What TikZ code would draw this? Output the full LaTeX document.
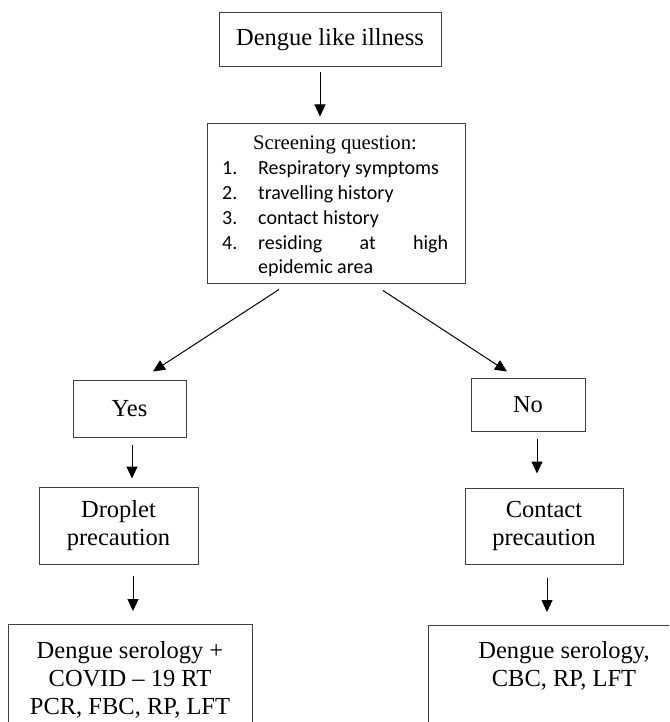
\documentclass[tikz,border=0pt]{standalone}
\usepackage{fontspec}
\setmainfont{Liberation Serif}
\newfontfamily\calfont{Carlito}
\usetikzlibrary{arrows.meta}
\begin{document}
\begin{tikzpicture}[x=1pt,y=-1pt,
  box/.style={draw=black!75, line width=1pt, rectangle, inner sep=0pt, align=center,
              font=\fontsize{24.5}{28}\selectfont},
  arr/.style={draw=black, line width=1pt, -{Triangle[length=12pt,width=11pt]}},
  lst/.style={font=\calfont\fontsize{20}{24}\selectfont, inner sep=0pt, anchor=base west},
  ttl/.style={font=\fontsize{20.7}{24}\selectfont, inner sep=0pt, anchor=base}
]
\useasboundingbox (0,0) rectangle (669,722);
\clip (0,0) rectangle (669,722);
\fill[white] (0,0) rectangle (669,722);

% boxes
\node[box, minimum width=222, minimum height=54] (ill) at (330,40) {Dengue like illness};
\node[box, minimum width=258, minimum height=159] (screen) at (336,203.5) {};
\node[ttl] (sq) at (335,150) {Screening question:};
\node[lst] (n1) at (222,175) {1.};
\node[lst] (i1) at (258,175) {Respiratory symptoms};
\node[lst] (n2) at (222,199) {2.};
\node[lst] (i2) at (258,199) {travelling history};
\node[lst] (n3) at (222,224) {3.};
\node[lst] (i3) at (258,224) {contact history};
\node[lst] (n4) at (222,249) {4.};
\node[lst] (i4) at (258,249) {\makebox[190pt][l]{residing\hfill at\hfill high}};
\node[lst] (i5) at (258,273) {epidemic area};

\node[box, minimum width=113, minimum height=57] (yes) at (129.5,408.5) {Yes};
\node[box, minimum width=114, minimum height=53] (no) at (528,404.5) {No};
\node[box, minimum width=159, minimum height=77] (drop) at (118.5,525.5) {Droplet\\precaution};
\node[box, minimum width=158, minimum height=76] (cont) at (544,526) {Contact\\precaution};

\node[box, anchor=north, minimum width=244] (finl) at (130,624)
  {\parbox[c][140pt][t]{240pt}{\centering\rule{0pt}{34pt}Dengue serology +\\COVID – 19 RT\\PCR, FBC, RP, LFT}};
\node[box, anchor=north, minimum width=272] (finr) at (564,625)
  {\parbox[c][140pt][t]{268pt}{\centering\rule{0pt}{33pt}Dengue serology,\\CBC, RP, LFT}};

% connectors
\draw[arr] ([xshift=-10pt,yshift=-5pt]ill.south) -- ([xshift=-16pt,yshift=7pt]screen.north);
\draw[arr] ([xshift=-57pt,yshift=-6pt]screen.south) -- ([xshift=23.5pt,yshift=8pt]yes.north);
\draw[arr] ([xshift=47pt,yshift=-7pt]screen.south) -- ([xshift=-21pt,yshift=6pt]no.north);
\draw[arr] ([xshift=2.5pt,yshift=-7pt]yes.south) -- ([xshift=13.5pt,yshift=8pt]drop.north);
\draw[arr] ([xshift=9pt,yshift=-7pt]no.south) -- ([xshift=-7pt,yshift=14pt]cont.north);
\draw[arr] ([xshift=14.5pt,yshift=-11pt]drop.south) -- ([xshift=3pt,yshift=13pt]finl.north);
\draw[arr] ([xshift=3pt,yshift=-13pt]cont.south) -- ([xshift=-17pt,yshift=13pt]finr.north);
\end{tikzpicture}
\end{document}
